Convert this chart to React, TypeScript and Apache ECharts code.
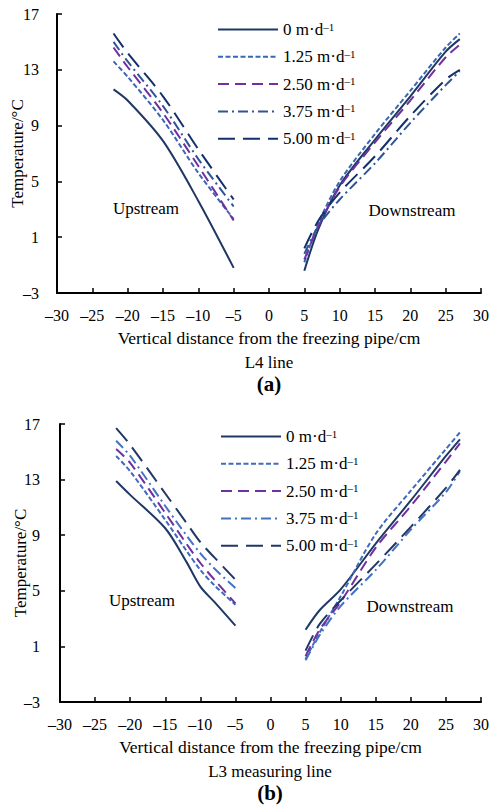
import React, { useEffect, useRef } from "react";
import * as echarts from "echarts";

const FONT = "Liberation Serif";

// Seepage velocities shown in the legends
const SPEEDS = ["0", "1.25", "2.50", "3.75", "5.00"];

// (a) L4 line — upstream side
const L4_UP_X = [-22, -20, -15, -10, -5];
const L4_UP_V0 = [11.6, 10.8, 7.9, 3.6, -1.2];
const L4_UP_V125 = [13.6, 12.5, 9.4, 5.6, 2.3];
const L4_UP_V250 = [14.6, 13.2, 9.9, 6.1, 2.2];
const L4_UP_V375 = [15.0, 13.6, 10.4, 6.6, 3.2];
const L4_UP_V500 = [15.6, 14.2, 11.1, 7.3, 3.7];

// (a) L4 line — downstream side
const L4_DOWN_X = [5, 7, 10, 15, 20, 25, 27];
const L4_DOWN_V0 = [-1.4, 1.6, 4.7, 8.0, 11.1, 14.3, 15.2];
const L4_DOWN_V125 = [-0.8, 2.0, 5.0, 8.4, 11.5, 14.6, 15.6];
const L4_DOWN_V250 = [-0.6, 1.8, 4.6, 7.8, 10.8, 13.9, 14.8];
const L4_DOWN_V375 = [-0.2, 1.8, 3.7, 6.3, 9.2, 11.9, 12.9];
const L4_DOWN_V500 = [0.2, 2.2, 4.2, 6.8, 9.7, 12.3, 13.0];

// (b) L3 measuring line — upstream side
const L3_UP_X = [-22, -20, -15, -12, -10, -8, -5];
const L3_UP_V0 = [12.9, 11.9, 9.5, 7.1, 5.3, 4.2, 2.5];
const L3_UP_V125 = [14.7, 13.6, 10.1, 7.9, 6.5, 5.4, 4.0];
const L3_UP_V250 = [15.2, 14.2, 10.6, 8.4, 7.0, 5.8, 4.1];
const L3_UP_V375 = [15.8, 14.7, 11.1, 9.0, 7.7, 6.6, 5.2];
const L3_UP_V500 = [16.7, 15.5, 12.0, 9.9, 8.5, 7.4, 5.8];

// (b) L3 measuring line — downstream side
const L3_DOWN_X = [5, 7, 10, 15, 20, 25, 27];
const L3_DOWN_V0 = [2.2, 3.6, 5.1, 8.4, 11.5, 14.7, 15.9];
const L3_DOWN_V125 = [0.1, 2.0, 4.6, 9.1, 12.2, 15.2, 16.4];
const L3_DOWN_V250 = [0.3, 2.2, 4.2, 8.1, 11.1, 14.3, 15.6];
const L3_DOWN_V375 = [0.0, 1.8, 3.9, 6.5, 9.4, 12.1, 13.6];
const L3_DOWN_V500 = [0.7, 2.6, 4.3, 6.9, 9.6, 12.4, 13.7];

// Axis ticks
const X_MIN = -30;
const X_MAX = 30;
const X_STEP = 5;
const Y_MIN = -3;
const Y_MAX = 17;
const Y_STEP = 4;

const COLORS_A = ["#1f3864", "#3b66b3", "#7030a0", "#2f5597", "#13306b"];
const COLORS_B = ["#1f3864", "#3f6bbd", "#7030a0", "#4472c4", "#1f3864"];
const DASHES: any[] = ["solid", [5, 2.5], [11, 6], [10, 4, 2, 4], [17, 8]];

const pair = (xs: number[], ys: number[]) => xs.map((x, i) => [x, ys[i]]);

function buildSeries(
  prefix: string,
  gridIdx: number,
  colors: string[],
  upX: number[],
  up: number[][],
  downX: number[],
  down: number[][]
) {
  const out: any[] = [];
  SPEEDS.forEach((_, i) => {
    const style = {
      color: colors[i],
      width: 2,
      type: DASHES[i],
    };
    const base = {
      type: "line",
      name: prefix + i,
      xAxisIndex: gridIdx,
      yAxisIndex: gridIdx,
      symbol: "none",
      showSymbol: false,
      smooth: 0.3,
      color: colors[i],
      lineStyle: style,
      emphasis: { disabled: true },
    };
    out.push({ ...base, data: pair(upX, up[i]) });
    out.push({ ...base, data: pair(downX, down[i]) });
  });
  return out;
}

const dashLabel = (v: number) => (v < 0 ? "\u2013" + Math.abs(v) : String(v));

function xAxisCfg(gridIndex: number) {
  return {
    type: "value",
    gridIndex,
    min: X_MIN,
    max: X_MAX,
    interval: X_STEP,
    name: "Vertical distance from the freezing pipe/cm",
    nameLocation: "middle",
    nameGap: 36,
    nameMoveOverlap: false,
    nameTextStyle: { fontFamily: FONT, fontSize: 17.5, color: "#000" },
    axisLine: { onZero: false, lineStyle: { color: "#000", width: 2 } },
    axisTick: { inside: true, length: 5, lineStyle: { color: "#000", width: 1.5 } },
    axisLabel: {
      margin: 14,
      fontFamily: FONT,
      fontSize: 16,
      color: "#000",
      formatter: dashLabel,
    },
    splitLine: { show: false },
  };
}

function yAxisCfg(gridIndex: number, margin: number) {
  return {
    type: "value",
    gridIndex,
    min: Y_MIN,
    max: Y_MAX,
    interval: Y_STEP,
    name: "Temperature/\u00b0C",
    nameLocation: "middle",
    nameGap: 31,
    nameMoveOverlap: false,
    nameTextStyle: { fontFamily: FONT, fontSize: 17, color: "#000" },
    axisLine: { onZero: false, lineStyle: { color: "#000", width: 2 } },
    axisTick: { inside: true, length: 5, lineStyle: { color: "#000", width: 1.5 } },
    axisLabel: {
      margin,
      fontFamily: FONT,
      fontSize: 16,
      color: "#000",
      formatter: dashLabel,
    },
    splitLine: { show: false },
  };
}

function legendCfg(prefix: string, left: number, top: number) {
  return {
    orient: "vertical",
    left,
    top,
    data: SPEEDS.map((_, i) => prefix + i),
    itemWidth: 60,
    itemHeight: 14,
    itemGap: 10.3,
    selectedMode: false,
    itemStyle: { opacity: 0 },
    formatter: (name: string) => {
      const idx = Number(name.slice(1));
      return `{t|${SPEEDS[idx]} m\u00b7d}{s|\u20131}`;
    },
    textStyle: {
      fontFamily: FONT,
      color: "#000",
      rich: {
        t: { fontFamily: FONT, fontSize: 17, lineHeight: 17, color: "#000" },
        s: { fontFamily: FONT, fontSize: 11, lineHeight: 11, color: "#000", verticalAlign: "top" },
      },
    },
  };
}

function text(x: number, y: number, s: string, size = 17, weight: any = "normal") {
  return {
    type: "text",
    x,
    y,
    style: {
      text: s,
      fontFamily: FONT,
      fontSize: size,
      fontWeight: weight,
      fill: "#000",
      align: "center",
      verticalAlign: "middle",
    },
  };
}

export default function App() {
  const ref = useRef<HTMLDivElement>(null);

  useEffect(() => {
    if (!ref.current) return;
    const chart = echarts.init(ref.current, undefined, { renderer: "svg" });

    const series = [
      ...buildSeries(
        "a",
        0,
        COLORS_A,
        L4_UP_X,
        [L4_UP_V0, L4_UP_V125, L4_UP_V250, L4_UP_V375, L4_UP_V500],
        L4_DOWN_X,
        [L4_DOWN_V0, L4_DOWN_V125, L4_DOWN_V250, L4_DOWN_V375, L4_DOWN_V500]
      ),
      ...buildSeries(
        "b",
        1,
        COLORS_B,
        L3_UP_X,
        [L3_UP_V0, L3_UP_V125, L3_UP_V250, L3_UP_V375, L3_UP_V500],
        L3_DOWN_X,
        [L3_DOWN_V0, L3_DOWN_V125, L3_DOWN_V250, L3_DOWN_V375, L3_DOWN_V500]
      ),
    ];

    chart.setOption({
      animation: false,
      backgroundColor: "#fff",
      grid: [
        { left: 57, right: 10, top: 14, height: 279, containLabel: false, outerBoundsMode: "none" },
        { left: 60, right: 10, top: 424, height: 278, containLabel: false, outerBoundsMode: "none" },
      ],
      xAxis: [xAxisCfg(0), xAxisCfg(1)],
      yAxis: [yAxisCfg(0, 18), yAxisCfg(1, 20)],
      legend: [legendCfg("a", 212, 16), legendCfg("b", 215, 423)],
      series,
      graphic: [
        text(146, 208, "Upstream"),
        text(412, 210, "Downstream"),
        text(269, 362, "L4 line"),
        text(269, 384, "(a)", 21, "bold"),
        text(142, 600, "Upstream"),
        text(410, 606, "Downstream"),
        text(270, 771, "L3 measuring line"),
        text(270, 793, "(b)", 21, "bold"),
      ],
    });

    return () => chart.dispose();
  }, []);

  return (
    <div
      ref={ref}
      style={{ position: "fixed", left: 0, top: 0, width: 491, height: 806 }}
    />
  );
}
